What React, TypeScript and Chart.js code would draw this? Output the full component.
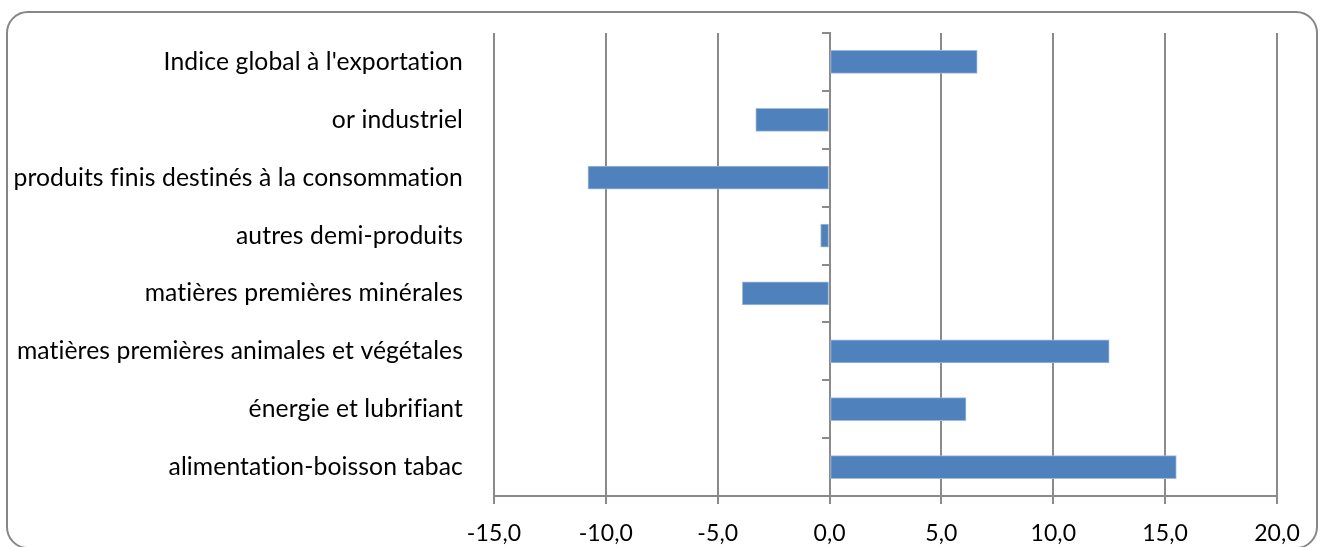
import React, { useEffect, useRef } from "react";
import { Chart, registerables } from "chart.js";

Chart.register(...registerables);

const categories: string[] = [
  "Indice global à l'exportation",
  "or industriel",
  "produits finis destinés à la consommation",
  "autres demi-produits",
  "matières premières minérales",
  "matières premières animales et végétales",
  "énergie et lubrifiant",
  "alimentation-boisson tabac",
];

const values: number[] = [6.6, -3.3, -10.8, -0.4, -3.9, 12.5, 6.1, 15.5];

const xMin = -15;
const xMax = 20;
const xStep = 5;

const FONT = "Lato, 'Open Sans', sans-serif";
const GRID = "#8a8a8a";

const noLigatures = {
  id: "noLigatures",
  beforeDraw(chart: any) {
    try {
      chart.ctx.letterSpacing = "0.1px";
    } catch (e) {
      /* ignore */
    }
  },
};

export default function App() {
  const ref = useRef<HTMLCanvasElement | null>(null);

  useEffect(() => {
    document.body.style.margin = "0";
    const ctx = ref.current;
    if (!ctx) return;
    const chart = new Chart(ctx, {
      type: "bar",
      data: {
        labels: categories,
        datasets: [
          {
            data: values,
            backgroundColor: "#4f81bd",
            borderColor: "#a3bbdb",
            borderWidth: 1,
            borderSkipped: false,
            barThickness: 23,
            yAxisID: "y",
          },
        ],
      },
      plugins: [noLigatures],
      options: {
        indexAxis: "y",
        animation: false,
        responsive: false,
        maintainAspectRatio: false,
        layout: { padding: { left: 0, right: 48, top: 33, bottom: 0 } },
        plugins: { legend: { display: false }, tooltip: { enabled: false } },
        scales: {
          x: {
            type: "linear",
            min: xMin,
            max: xMax,
            position: "bottom",
            ticks: {
              stepSize: xStep,
              color: "#000",
              font: { family: FONT, size: 23 },
              padding: 16,
              callback: (v: any) => Number(v).toFixed(1).replace(".", ","),
            },
            grid: { color: GRID, lineWidth: 2, tickLength: 8, drawTicks: true },
            border: { display: true, color: GRID, width: 2 },
            afterFit: (s: any) => {
              s.height = 51;
              s.paddingLeft = 0;
              s.paddingRight = 0;
            },
          },
          y: {
            type: "category",
            position: "left",
            grid: { display: false, drawTicks: false },
            border: { display: false },
            ticks: {
              color: "#000",
              font: { family: FONT, size: 24.7 },
              padding: 31,
              crossAlign: "near",
            },
            afterFit: (s: any) => {
              s.width = 494;
              s.paddingTop = 0;
              s.paddingBottom = 0;
            },
          },
          y2: {
            type: "category",
            position: { x: 0 } as any,
            offset: true,
            grid: {
              drawOnChartArea: false,
              offset: true,
              tickLength: 7,
              color: GRID,
              lineWidth: 2,
            },
            border: { display: true, color: GRID, width: 2 },
            ticks: { display: false },
            afterFit: (s: any) => {
              s.paddingTop = 0;
              s.paddingBottom = 0;
            },
          },
        },
      },
    });
    return () => chart.destroy();
  }, []);

  return (
    <div style={{ position: "relative", width: 1325, height: 547, overflow: "hidden", background: "#fff" }}>
      <canvas ref={ref} width={1325} height={547} style={{ position: "absolute", left: 0, top: 0, width: 1325, height: 547 }} />
      <div
        style={{
          position: "absolute",
          left: 6,
          top: 11,
          width: 1308,
          height: 534,
          border: "2.5px solid #868686",
          borderRadius: 22,
          pointerEvents: "none",
        }}
      />
    </div>
  );
}
